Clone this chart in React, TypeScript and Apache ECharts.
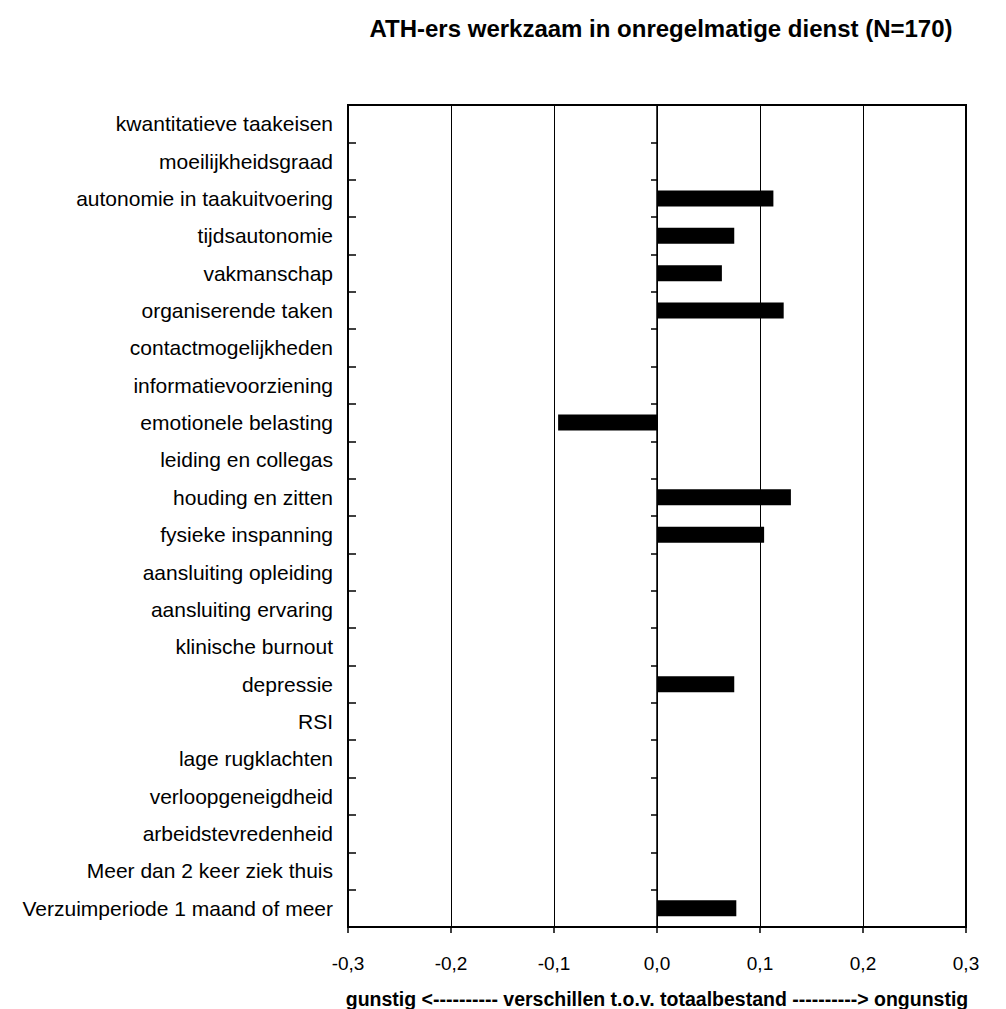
import React, { useEffect, useRef } from "react";
import * as echarts from "echarts";

const categories = [
  "kwantitatieve taakeisen",
  "moeilijkheidsgraad",
  "autonomie in taakuitvoering",
  "tijdsautonomie",
  "vakmanschap",
  "organiserende taken",
  "contactmogelijkheden",
  "informatievoorziening",
  "emotionele belasting",
  "leiding en collegas",
  "houding en zitten",
  "fysieke inspanning",
  "aansluiting opleiding",
  "aansluiting ervaring",
  "klinische burnout",
  "depressie",
  "RSI",
  "lage rugklachten",
  "verloopgeneigdheid",
  "arbeidstevredenheid",
  "Meer dan 2 keer ziek thuis",
  "Verzuimperiode 1 maand of meer",
];

const values: (number | null)[] = [
  null, null, 0.113, 0.075, 0.063, 0.123, null, null, -0.096, null,
  0.13, 0.104, null, null, null, 0.075, null, null, null, null, null, 0.077,
];

const titleText = "ATH-ers werkzaam in onregelmatige dienst (N=170)";
const xAxisName = "gunstig <---------- verschillen t.o.v. totaalbestand ----------> ongunstig";

const FONT = "'Liberation Sans', Arial, sans-serif";

export default function App() {
  const ref = useRef<HTMLDivElement>(null);
  useEffect(() => {
    if (!ref.current) return;
    const chart = echarts.init(ref.current, null, { renderer: "svg" });
    const hiddenCat = {
      type: "category" as const,
      data: categories,
      inverse: true,
      position: "left" as const,
      axisLine: { show: true, onZero: true, lineStyle: { color: "#000", width: 1.5 } },
      axisLabel: { show: false },
      splitLine: { show: false },
    };
    chart.setOption({
      animation: false,
      backgroundColor: "#fff",
      textStyle: { fontFamily: FONT, color: "#000" },
      title: {
        text: titleText,
        left: 656,
        top: 11,
        textAlign: "center",
        textStyle: { fontFamily: FONT, fontSize: 24, fontWeight: "bold", color: "#000" },
      },
      grid: {
        left: 348,
        right: 40,
        top: 105,
        bottom: 82,
        containLabel: false,
        outerBoundsMode: "none",
        show: true,
        borderColor: "#000",
        borderWidth: 2,
        backgroundColor: "transparent",
      },
      xAxis: {
        type: "value",
        min: -0.3,
        max: 0.3,
        interval: 0.1,
        axisLine: { show: true, onZero: false, lineStyle: { color: "#000", width: 2 } },
        axisTick: { show: true, length: 6, lineStyle: { color: "#000", width: 1.5 } },
        axisLabel: {
          margin: 27,
          fontSize: 19,
          color: "#000",
          fontFamily: FONT,
          formatter: (v: number) => v.toFixed(1).replace(".", ","),
        },
        splitLine: { show: true, lineStyle: { color: "#000", width: 1 } },
        name: xAxisName,
        nameLocation: "middle",
        nameGap: 62,
        nameTextStyle: { fontFamily: FONT, fontSize: 19.5, fontWeight: "bold", color: "#000" },
      },
      yAxis: [
        {
          type: "category",
          data: categories,
          inverse: true,
          position: "left",
          axisLine: { show: true, onZero: false, lineStyle: { color: "#000", width: 2 } },
          axisTick: { show: false },
          axisLabel: { margin: 15, fontSize: 21, color: "#000", fontFamily: FONT },
          splitLine: { show: false },
        },
        {
          ...hiddenCat,
          axisTick: { show: true, inside: false, length: 6, lineStyle: { color: "#000", width: 1.5 } },
        },
        {
          ...hiddenCat,
          axisTick: { show: true, inside: true, length: 8, lineStyle: { color: "#000", width: 1.5 } },
        },
      ],
      series: [
        {
          type: "bar",
          data: values,
          barWidth: 16,
          itemStyle: { color: "#000" },
          silent: true,
        },
      ],
    });
    return () => chart.dispose();
  }, []);
  return (
    <div
      ref={ref}
      style={{ position: "fixed", left: 0, top: 0, width: 1006, height: 1009 }}
    />
  );
}
